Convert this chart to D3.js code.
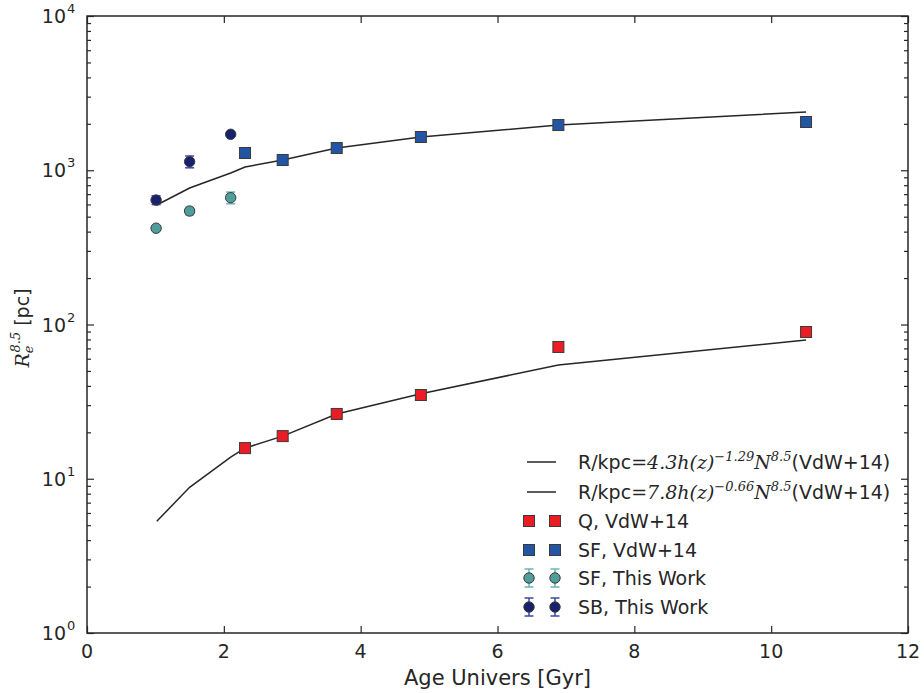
<!DOCTYPE html>
<html><head><meta charset="utf-8">
<script src="https://cdn.jsdelivr.net/npm/d3@7"></script>
<style>body{margin:0;background:#fff;} svg{display:block;}</style>
</head><body><div id="chart"></div>
<script>
// ---- data ----
const vdwAge = [2.31, 2.86, 3.65, 4.88, 6.89, 10.51];
const sfVdw = [1294, 1165, 1393, 1643, 1964, 2055];
const qVdw = [15.8, 18.9, 26.3, 34.9, 71.5, 89.4];
const lineAge = [1.02, 1.50, 2.10, 2.31, 2.86, 3.65, 4.88, 6.89, 10.51];
const lineSF = [595, 767, 959, 1050, 1165, 1393, 1643, 1964, 2387];
const lineQ = [5.3, 8.8, 13.8, 15.8, 18.9, 26.3, 35.6, 54.6, 79.4];
const twAge = [1.01, 1.50, 2.10];
const sfTW = [421, 544, 664];
const sfTWerr = [8, 30, 58];
const sbTW = [641, 1137, 1711];
const sbTWerr = [42, 100, 0];
const xTicks = [0, 2, 4, 6, 8, 10, 12];
const yTicks = [1, 10, 100, 1000, 10000];
const yTickExp = ["0", "1", "2", "3", "4"];

const W = 924, H = 693;
const m = {l: 87, r: 16, t: 16, b: 60};
const svg = d3.select("#chart").append("svg").attr("width", W).attr("height", H)
  .style("font-family", "'DejaVu Sans', sans-serif");
const x = d3.scaleLinear().domain([0, 12]).range([m.l, W - m.r]);
const y = d3.scaleLog().domain([1, 10000]).range([H - m.b, m.t]);
const ink = "#262626";

// minor ticks
const minor = [];
for (let e = 0; e < 4; e++) for (let k = 2; k <= 9; k++) minor.push(k * Math.pow(10, e));

const g = svg.append("g");
const axL = d3.axisLeft(y).tickValues(yTicks).tickSize(-7).tickFormat("");
const axR = d3.axisRight(y).tickValues(yTicks).tickSize(-7).tickFormat("");
const axLm = d3.axisLeft(y).tickValues(minor).tickSize(-4).tickFormat("");
const axRm = d3.axisRight(y).tickValues(minor).tickSize(-4).tickFormat("");
const axB = d3.axisBottom(x).tickValues(xTicks).tickSize(-7).tickFormat("");
const axT = d3.axisTop(x).tickValues(xTicks).tickSize(-7).tickFormat("");
function styleAx(sel){ sel.selectAll("path").remove(); sel.selectAll("line").attr("stroke", ink).attr("stroke-width", 1.2); }
g.append("g").attr("transform", `translate(${m.l},0)`).call(axL).call(styleAx);
g.append("g").attr("transform", `translate(${m.l},0)`).call(axLm).call(styleAx);
g.append("g").attr("transform", `translate(${W - m.r},0)`).call(axR).call(styleAx);
g.append("g").attr("transform", `translate(${W - m.r},0)`).call(axRm).call(styleAx);
g.append("g").attr("transform", `translate(0,${H - m.b})`).call(axB).call(styleAx);
g.append("g").attr("transform", `translate(0,${m.t})`).call(axT).call(styleAx);
g.append("rect").attr("x", m.l).attr("y", m.t).attr("width", W - m.r - m.l).attr("height", H - m.b - m.t)
  .attr("fill", "none").attr("stroke", ink).attr("stroke-width", 1.5);

// tick labels
svg.append("g").selectAll("text").data(xTicks).join("text")
  .attr("x", d => x(d)).attr("y", H - m.b + 25).attr("text-anchor", "middle")
  .attr("font-size", 19).attr("fill", ink).text(d => d);
svg.append("g").selectAll("text").data(yTicks).join("text")
  .attr("x", m.l - 21).attr("y", d => y(d) + 7).attr("text-anchor", "end")
  .attr("font-size", 19).attr("fill", ink).text("10");
svg.append("g").selectAll("text").data(yTicks).join("text")
  .attr("x", m.l - 20).attr("y", d => y(d) - 3).attr("text-anchor", "start")
  .attr("font-size", 13).attr("fill", ink).text((d, i) => yTickExp[i]);

// axis labels
svg.append("text").attr("x", (m.l + W - m.r) / 2).attr("y", H - 8).attr("text-anchor", "middle")
  .attr("font-size", 21).attr("fill", ink).text("Age Univers [Gyr]");
const ylab = svg.append("text").attr("transform", `translate(29,${328}) rotate(-90)`)
  .attr("text-anchor", "middle").attr("font-size", 19).attr("fill", ink);
const serif = "'DejaVu Serif', serif";
ylab.append("tspan").attr("font-family", serif).attr("font-style", "italic").text("R");
ylab.append("tspan").attr("font-family", serif).attr("font-style", "italic").attr("font-size", 13).attr("dy", 4).text("e");
ylab.append("tspan").attr("font-family", serif).attr("font-style", "italic").attr("font-size", 13).attr("dx", -7).attr("dy", -13).text("8.5");
ylab.append("tspan").attr("dy", 9).text(" [pc]");

// lines
const lineGen = (arr) => d3.line().x((d, i) => x(lineAge[i])).y(d => y(d))(arr);
svg.append("path").attr("d", lineGen(lineSF)).attr("fill", "none").attr("stroke", ink).attr("stroke-width", 1.5);
svg.append("path").attr("d", lineGen(lineQ)).attr("fill", "none").attr("stroke", ink).attr("stroke-width", 1.5);

const edge = "#3a3a3a";
const cRed = "#ec1c24", cBlue = "#2255a4", cTeal = "#4f9e9b", cNavy = "#18216b";
const errTeal = "#6bb5b3", errNavy = "#3b4aa3";
function square(sel, cx, cy, col){ sel.append("rect").attr("x", cx - 5.5).attr("y", cy - 5.5).attr("width", 11).attr("height", 11).attr("fill", col).attr("stroke", edge).attr("stroke-width", 1); }
function circ(sel, cx, cy, col, errCol, lo, hi){
  if (hi - lo > 0.5) {
    sel.append("line").attr("x1", cx).attr("x2", cx).attr("y1", lo).attr("y2", hi).attr("stroke", errCol).attr("stroke-width", 1.5);
    [lo, hi].forEach(v => sel.append("line").attr("x1", cx - 4.5).attr("x2", cx + 4.5).attr("y1", v).attr("y2", v).attr("stroke", errCol).attr("stroke-width", 1.5));
  }
  sel.append("circle").attr("cx", cx).attr("cy", cy).attr("r", 5.2).attr("fill", col).attr("stroke", edge).attr("stroke-width", 1);
}
const pts = svg.append("g");
vdwAge.forEach((a, i) => square(pts, x(a), y(qVdw[i]), cRed));
vdwAge.forEach((a, i) => square(pts, x(a), y(sfVdw[i]), cBlue));
twAge.forEach((a, i) => circ(pts, x(a), y(sfTW[i]), cTeal, errTeal, y(sfTW[i] + sfTWerr[i]), y(sfTW[i] - sfTWerr[i])));
twAge.forEach((a, i) => circ(pts, x(a), y(sbTW[i]), cNavy, errNavy, y(sbTW[i] + sbTWerr[i]), y(sbTW[i] - sbTWerr[i])));

// legend
const lg = svg.append("g");
const ly = [462, 492, 521, 550, 578, 607];
const lx1 = 529, lx2 = 555, ltx = 578;
function mathLabel(t, coef, expo){
  t.append("tspan").text("R/kpc");
  t.append("tspan").attr("font-family", serif).text("=");
  t.append("tspan").attr("font-family", serif).attr("font-style", "italic").text(coef + "h(z)");
  t.append("tspan").attr("font-family", serif).attr("font-style", "italic").attr("font-size", 13).attr("dy", -8).text(expo);
  t.append("tspan").attr("font-family", serif).attr("font-style", "italic").attr("dy", 8).text("N");
  t.append("tspan").attr("font-family", serif).attr("font-style", "italic").attr("font-size", 13).attr("dy", -8).text("8.5");
  t.append("tspan").attr("dy", 8).text("(VdW+14)");
}
[0, 1].forEach(i => {
  lg.append("line").attr("x1", 527).attr("x2", 556).attr("y1", ly[i]).attr("y2", ly[i]).attr("stroke", ink).attr("stroke-width", 1.5);
  const t = lg.append("text").attr("x", ltx).attr("y", ly[i] + 7).attr("font-size", 19).attr("fill", ink);
  mathLabel(t, i === 0 ? "4.3" : "7.8", i === 0 ? "−1.29" : "−0.66");
});
[lx1, lx2].forEach(px => { square(lg, px, ly[2], cRed); square(lg, px, ly[3], cBlue);
  circ(lg, px, ly[4], cTeal, errTeal, ly[4] - 9, ly[4] + 9);
  circ(lg, px, ly[5], cNavy, errNavy, ly[5] - 9, ly[5] + 9); });
const labels = ["Q, VdW+14", "SF, VdW+14", "SF, This Work", "SB, This Work"];
labels.forEach((l, i) => lg.append("text").attr("x", ltx).attr("y", ly[i + 2] + 7).attr("font-size", 19).attr("fill", ink).text(l));
</script></body></html>
